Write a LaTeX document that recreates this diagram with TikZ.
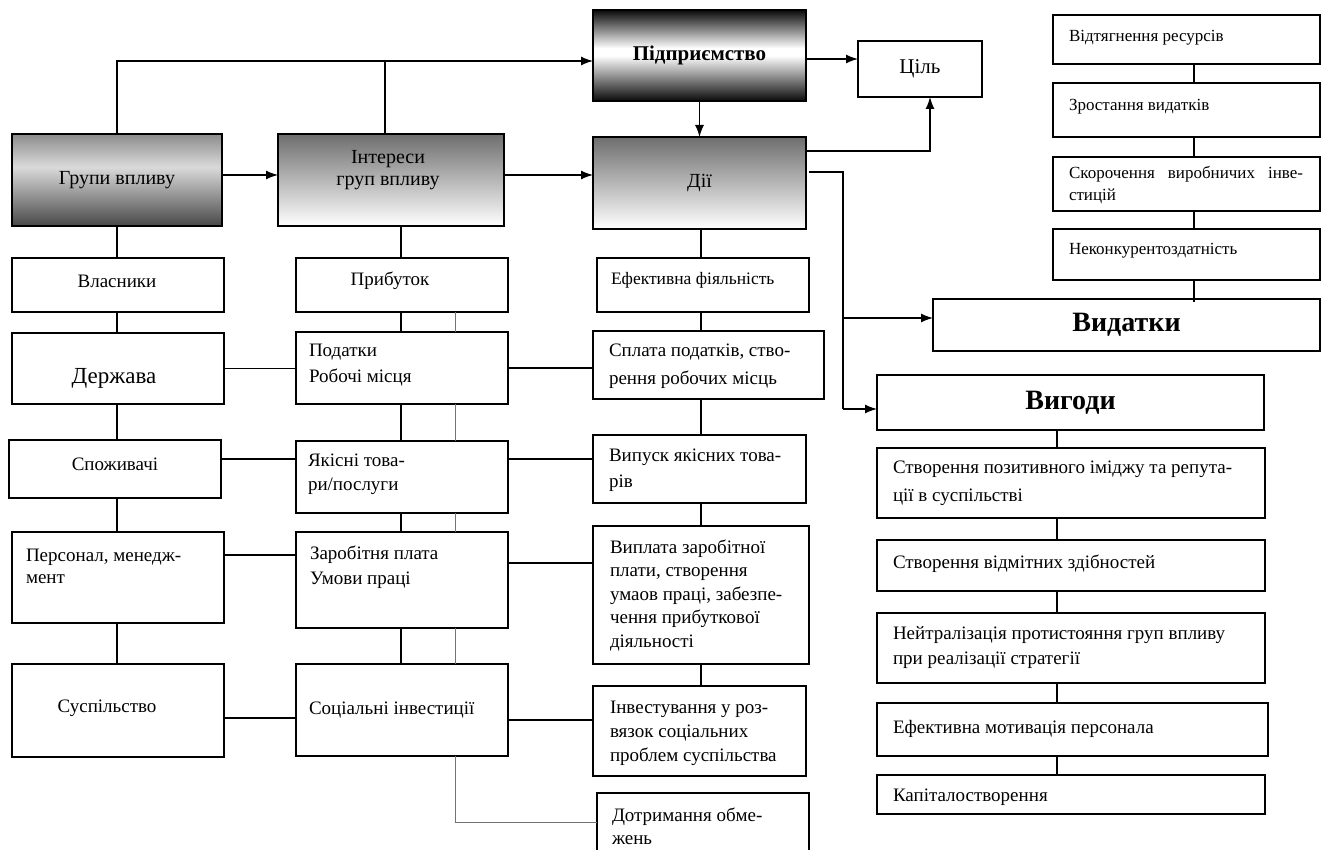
\documentclass[tikz,border=0pt]{standalone}
\usepackage{fontspec}
\setmainfont{Liberation Serif}
\usetikzlibrary{arrows.meta,calc}

% fills of the shaded boxes
\definecolor{grpTop}{HTML}{8C8C8C}
\definecolor{grpLight}{HTML}{DADADA}
\definecolor{grpDark}{HTML}{484848}
\definecolor{midGrey}{HTML}{6E6E6E}
\definecolor{firmDark}{HTML}{0A0A0A}
\pgfdeclareverticalshading{groupfill}{100bp}{color(0bp)=(grpDark); color(25bp)=(grpDark); color(57bp)=(grpLight); color(75bp)=(grpTop); color(100bp)=(grpTop)}
\pgfdeclareverticalshading{firmfill}{100bp}{color(0bp)=(firmDark); color(25bp)=(firmDark); color(50bp)=(white); color(54bp)=(white); color(75bp)=(firmDark); color(100bp)=(firmDark)}

\tikzset{
  box/.style={draw, line width=1.3pt, rectangle, inner sep=0pt, outer sep=0pt},
  % multi-line labels are anchored at the baseline of their last line
  lbl/.style={inner sep=0pt, outer sep=0pt, align=left, anchor=base west, font=\fontsize{19}{24}\selectfont},
  clbl/.style={inner sep=0pt, outer sep=0pt, align=center, font=\fontsize{19}{24}\selectfont},
  small/.style={font=\fontsize{17}{22}\selectfont},
  link/.style={line width=1.3pt},
  faint/.style={line width=0.8pt, black!55},
  arr/.style={line width=1.3pt, -{Latex[length=12pt,width=9pt]}},
  greyfall/.style={top color=midGrey, bottom color=white},
}
% \mybox{name}{centre}{width}{height}
\newcommand\mybox[5][]{\node[box,minimum width=#4,minimum height=#5,#1] (#2) at (#3) {};}

\begin{document}
\begin{tikzpicture}[x=1pt,y=-1pt]
\useasboundingbox (0,0) rectangle (1328,850);
\fill[white] (0,0) rectangle (1328,850);

% ---- top row ----
\node[box,shade,shading=firmfill,minimum width=213pt,minimum height=91pt,font=\fontsize{21}{24}\selectfont\bfseries] (pidpr) at (699.5,55.5) {Підприємство};
\node[box,minimum width=124pt,minimum height=56pt,font=\fontsize{21}{24}\selectfont] (tsil) at (920,69) {Ціль};

\node[box,shade,shading=groupfill,minimum width=210pt,minimum height=92pt,font=\fontsize{20}{24}\selectfont] (grupy) at (117,180) {Групи впливу};
\node[box,greyfall,minimum width=226pt,minimum height=92pt] (interesy) at (391,180) {};
\node[clbl,font=\fontsize{20}{22}\selectfont] (t-interesy) at (388,170) {Інтереси\\груп впливу};
\node[box,greyfall,minimum width=213pt,minimum height=92pt,font=\fontsize{20}{24}\selectfont] (dii) at (699.5,183) {Дії};

% ---- left column: groups ----
\mybox{vlasn}{118,285}{212pt}{54pt}
\mybox{derzh}{118,368.5}{212pt}{71pt}
\mybox{spoz}{115,469}{212pt}{58pt}
\mybox{pers}{118,577.5}{212pt}{91pt}
\mybox{susp}{118,710.5}{212pt}{93pt}
\node[clbl] (t-vlasn) at (117,281) {Власники};
\node[clbl,font=\fontsize{23}{26}\selectfont] (t-derzh) at (114,378) {Держава};
\node[clbl] (t-spoz) at (115,464) {Споживачі};
\node[lbl] (t-pers) at (26,583) {Персонал, менедж-\\[-2pt]мент};
\node[clbl] (t-susp) at (107,708) {Суспільство};

% ---- second column: interests ----
\mybox{prybut}{402,285}{212pt}{54pt}
\mybox{podat}{402,368}{212pt}{72pt}
\mybox{yakis}{402,477}{212pt}{72pt}
\mybox{zarob}{402,580}{212pt}{96pt}
\mybox{sots}{402,710}{212pt}{92pt}
\node[clbl] (t-prybut) at (390,281) {Прибуток};
\node[lbl] (t-podat) at (309,382) {Податки\\[2pt]Робочі місця};
\node[lbl] (t-yakis) at (308,490) {Якісні това-\\ри/послуги};
\node[lbl] (t-zarob) at (310,584) {Заробітня плата\\[1pt]Умови праці};
\node[lbl] (t-sots) at (309,714) {Соціальні інвестиції};

% ---- third column: actions ----
\mybox{efekt}{703,285}{212pt}{54pt}
\mybox{splata}{708.5,365}{231pt}{68pt}
\mybox{vypusk}{699.5,469}{213pt}{68pt}
\mybox{vyplata}{701,595}{216pt}{138pt}
\mybox{invest}{699.5,731}{213pt}{90pt}
\mybox{dotr}{703,822}{212pt}{58pt}
\node[lbl,font=\fontsize{17.5}{22}\selectfont] (t-efekt) at (611,285) {Ефективна фіяльність};
\node[lbl] (t-splata) at (609,384) {Сплата податків, ство-\\[4pt]рення робочих місць};
\node[lbl] (t-vypusk) at (609,487) {Випуск якісних това-\\[2pt]рів};
\node[lbl,font=\fontsize{19}{23.5}\selectfont] (t-vyplata) at (610,647) {Виплата заробітної\\плати, створення\\умаов праці, забезпе-\\чення прибуткової\\діяльності};
\node[lbl] (t-invest) at (610,761) {Інвестування у роз-\\вязок соціальних\\проблем суспільства};
\node[lbl] (t-dotr) at (612,844) {Дотримання обме-\\[-1pt]жень};

% ---- costs ----
\mybox{vidt}{1186.5,39.5}{267pt}{49pt}
\mybox{zrost}{1186.5,110}{267pt}{54pt}
\mybox{skor}{1186.5,184}{267pt}{54pt}
\mybox{nekonk}{1186.5,254.5}{267pt}{51pt}
\node[box,minimum width=387pt,minimum height=52pt,font=\fontsize{28}{30}\selectfont\bfseries] (vydatky) at (1126.5,325) {Видатки};
\node[lbl,small] (t-vidt) at (1069,42) {Відтягнення ресурсів};
\node[lbl,small] (t-zrost) at (1069,111) {Зростання видатків};
\node[lbl,small] (t-skor) at (1069,201) {\hbox to 234pt{Скорочення\hfill виробничих\hfill інве-}\\стицій};
\node[lbl,small] (t-nekonk) at (1069,255) {Неконкурентоздатність};

% ---- benefits ----
\node[box,minimum width=387pt,minimum height=55pt,font=\fontsize{28}{30}\selectfont\bfseries] (vygody) at (1070.5,402.5) {Вигоди};
\mybox{stv1}{1071,483}{388pt}{70pt}
\mybox{stv2}{1071,565.5}{388pt}{51pt}
\mybox{neitr}{1071,648}{388pt}{70pt}
\mybox{efmot}{1072.5,729.5}{391pt}{53pt}
\mybox{kapit}{1071,794.5}{388pt}{39pt}
\node[lbl] (t-stv1) at (893,501) {Створення позитивного іміджу та репута-\\[4pt]ції в суспільстві};
\node[lbl] (t-stv2) at (893,568) {Створення відмітних здібностей};
\node[lbl] (t-neitr) at (893,664) {Нейтралізація протистояння груп впливу\\[1pt]при реалізації стратегії};
\node[lbl] (t-efmot) at (893,733) {Ефективна мотивація персонала};
\node[lbl] (t-kapit) at (893,801) {Капіталостворення};

% ---- guide coordinates for the connector columns ----
\coordinate (c1) at (117,0);
\coordinate (c2) at (401,0);
\coordinate (c3) at (701,0);
\coordinate (c4) at (1194,0);
\coordinate (c5) at (1057,0);
\coordinate (gx) at (455,0);
\coordinate (topline) at (0,61);
\coordinate (goal) at (930,151);
\coordinate (busS) at (809,172);
\coordinate (bus) at (843,172);
\coordinate (busA) at (843,318);
\coordinate (busB) at (843,409);
\coordinate (nkend) at (1194,302);

% ---- arrows ----
\draw[arr] (grupy.north -| c1) |- (pidpr.west |- topline);
\draw[link] ([xshift=-6pt]interesy.north) -- ([xshift=-6pt]interesy.north |- topline);
\draw[arr] ([yshift=5pt]grupy.east) -- ([yshift=5pt]grupy.east -| interesy.west);
\draw[arr] ([yshift=5pt]interesy.east) -- ([yshift=5pt]interesy.east -| dii.west);
\draw[arr] ([yshift=-3.5pt]pidpr.east) -- ([yshift=-3.5pt]pidpr.east -| tsil.west);
\draw[arr] (pidpr.south) -- (dii.north);
\draw[arr] (dii.east |- goal) -| (tsil.south -| goal);
\draw[link] (busS) -- (bus) -- (busB);
\draw[arr] (busA) -- (vydatky.west |- busA);
\draw[arr] (busB) -- (vygody.west |- busB);

% ---- vertical chains ----
\foreach \a/\b in {grupy/vlasn, vlasn/derzh, derzh/spoz, spoz/pers, pers/susp}
  \draw[link] (\a.south -| c1) -- (\b.north -| c1);
\foreach \a/\b in {interesy/prybut, prybut/podat, podat/yakis, yakis/zarob, zarob/sots}
  \draw[link] (\a.south -| c2) -- (\b.north -| c2);
\foreach \a/\b in {prybut/podat, podat/yakis, yakis/zarob, zarob/sots}
  \draw[faint] (\a.south -| gx) -- (\b.north -| gx);
\foreach \a/\b in {dii/efekt, efekt/splata, splata/vypusk, vypusk/vyplata, vyplata/invest}
  \draw[link] (\a.south -| c3) -- (\b.north -| c3);
\foreach \a/\b in {vidt/zrost, zrost/skor, skor/nekonk}
  \draw[link] (\a.south -| c4) -- (\b.north -| c4);
\draw[link] (nekonk.south -| c4) -- (nkend);
\foreach \a/\b in {vygody/stv1, stv1/stv2, stv2/neitr, neitr/efmot, efmot/kapit}
  \draw[link] (\a.south -| c5) -- (\b.north -| c5);

% ---- horizontal links ----
\draw[link] (derzh.east) -- (derzh.east -| podat.west);
\draw[link] ([yshift=10pt]spoz.east) -- ([yshift=10pt]spoz.east -| yakis.west);
\draw[link] ([yshift=22.5pt]pers.east) -- ([yshift=22.5pt]pers.east -| zarob.west);
\draw[link] ([yshift=-7.5pt]susp.east) -- ([yshift=-7.5pt]susp.east -| sots.west);
\draw[link] (podat.east) -- (podat.east -| splata.west);
\draw[link] ([yshift=18pt]yakis.east) -- ([yshift=18pt]yakis.east -| vypusk.west);
\draw[link] ([yshift=17pt]zarob.east) -- ([yshift=17pt]zarob.east -| vyplata.west);
\draw[link] ([yshift=-10pt]sots.east) -- ([yshift=-10pt]sots.east -| invest.west);
\draw[faint] (sots.south -| gx) |- (dotr.west);
\end{tikzpicture}
\end{document}
